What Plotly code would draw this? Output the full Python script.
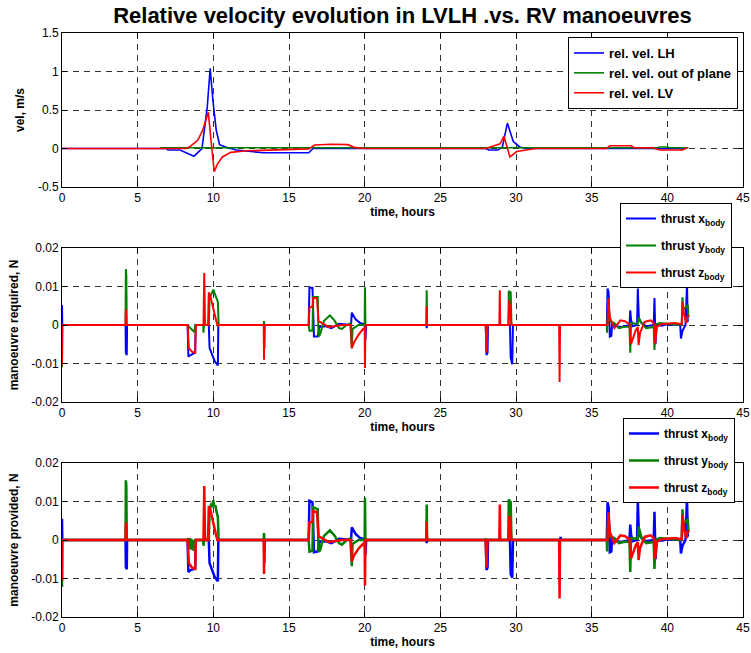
import plotly.graph_objects as go

# ---------------- data: relative velocity (m/s) ----------------
lh_t = [0, 6.9, 7.0, 7.8, 8.72, 9.25, 9.6, 9.79, 9.97, 10.19, 10.41, 10.86, 11.5, 13.3, 16.3, 16.6, 28.0, 28.2, 28.8, 29.1, 29.43, 29.82, 30.25, 30.6, 41.3]
lh_v = [0, 0, -0.02, -0.02, -0.1, 0.0, 0.54, 1.04, 0.63, 0.24, 0.05, 0.015, -0.02, -0.055, -0.055, 0.0, 0.0, -0.02, -0.02, 0.02, 0.33, 0.09, 0.02, 0.0, 0.0]

oop_t = [6.5, 15.0, 20.0, 28.0, 39.3, 39.5, 40.0, 40.2, 41.4]
oop_v = [0.01, 0.012, 0.01, 0.01, 0.01, 0.02, 0.02, 0.01, 0.01]

lv_t = [0, 8.2, 8.5, 8.98, 9.3, 9.67, 9.85, 10.06, 10.28, 10.6, 11.15, 12.2, 16.3, 16.6, 16.7, 17.8, 18.9, 19.3, 20.0, 28.0, 28.5, 28.95, 29.2, 29.6, 30.05, 30.7, 31.3, 36.0, 36.2, 37.6, 37.8, 39.0, 39.5, 41.0, 41.3]
lv_v = [0, 0, 0.03, 0.11, 0.24, 0.47, 0.1, -0.3, -0.2, -0.11, -0.05, -0.03, -0.005, 0.03, 0.045, 0.055, 0.05, 0.015, 0.0, 0.0, 0.03, 0.06, 0.16, -0.11, -0.04, -0.02, 0.0, 0.0, 0.036, 0.036, 0.01, 0.01, -0.02, -0.02, 0.01]

# ---------------- data: manoeuvre required (N) ----------------
rx_t = [0, 0.02, 4.2, 4.22, 4.28, 4.3, 8.3, 8.35, 8.5, 8.8, 8.83, 9.7, 9.75, 9.9, 10.1, 10.3, 10.33, 13.35, 13.37, 13.39,
        16.3, 16.35, 16.55, 16.65, 16.9, 17.0, 17.4, 17.8, 18.3, 18.8, 19.1, 19.15, 19.4, 19.7, 20.0, 20.05, 20.1,
        24.08, 24.1, 24.12, 28.0, 28.05, 28.12, 28.15, 29.6, 29.65, 29.75, 29.8,
        36.0, 36.05, 36.12, 36.2, 36.3, 36.35, 36.6, 37.0, 37.5, 37.55, 37.6, 37.7, 38.0, 38.05, 38.12, 38.3, 38.6,
        39.1, 39.15, 39.22, 39.3, 39.6, 40.0, 40.5, 40.85, 40.9, 41.0, 41.2, 41.3, 41.35, 41.4]
rx_v = [0.0052, 0, 0, -0.0072, -0.0078, 0, 0, -0.0082, -0.0078, -0.0072, 0, 0, -0.006, -0.0075, -0.0095, -0.0105, 0, 0, -0.006, 0,
        0, 0.0097, 0.0097, -0.003, -0.003, -0.0005, -0.0003, -0.0008, 0.0003, 0, 0, 0.0032, 0.0015, 0.0005, 0.0002, -0.004, 0,
        0, -0.0008, 0, 0, -0.0078, -0.0072, 0, 0, -0.0085, -0.0102, 0,
        0, 0.0095, 0.0085, -0.003, -0.0028, 0.0005, -0.0003, -0.0005, 0, 0.0038, 0.0015, -0.0003, 0, 0.0095, 0.0015, 0.0005, -0.0003,
        0, 0.007, -0.005, 0.0002, -0.0002, 0.0002, 0, 0, -0.0035, -0.0015, 0, 0.0105, 0.001, 0.001]

ry_t = [0, 0.02, 4.2, 4.22, 4.25, 4.28, 8.3, 8.4, 8.75, 8.8, 9.33, 9.35, 9.38, 9.7, 9.75, 10.0, 10.3, 10.35, 13.33, 13.35, 13.37,
        16.3, 16.35, 16.55, 16.6, 16.9, 16.95, 17.05, 17.3, 17.7, 18.0, 18.3, 18.5, 18.8, 19.05, 19.15, 19.2, 19.6, 20.0, 20.02, 20.05,
        24.08, 24.1, 24.12, 28.0, 28.02, 28.05, 29.5, 29.52, 29.65, 29.7,
        36.0, 36.02, 36.1, 36.18, 36.5, 36.8, 37.1, 37.5, 37.55, 37.6, 38.05, 38.1, 38.3, 38.6, 39.1, 39.15, 39.22, 39.5, 40.0, 40.5,
        40.95, 41.0, 41.05, 41.3, 41.35, 41.4]
ry_v = [-0.011, 0, 0, 0.0145, 0.013, 0, 0, -0.0005, -0.0018, 0, 0, -0.002, 0, 0, 0.007, 0.0092, 0.006, 0, 0, 0.001, 0,
        0, -0.0015, -0.0015, 0.0073, 0.0073, -0.003, -0.0025, 0.001, 0.0025, 0.0012, -0.0008, -0.001, 0, 0.0004, -0.006, -0.001, 0, 0, 0.0098, 0,
        0, 0.009, 0, 0, -0.0015, 0, 0, 0.0088, 0.0085, 0,
        0, -0.002, 0.007, 0.001, 0.0005, -0.0008, -0.0005, -0.0004, -0.0072, 0.0005, 0.0003, 0.002, 0.0005, -0.0008, -0.0005, -0.0065, 0, 0.0005, 0.0003, 0.0002,
        0, 0.0072, 0.004, 0.005, 0.0052, 0.002]

rz_t = [0, 0.02, 4.2, 4.22, 4.25, 8.3, 8.38, 8.6, 8.8, 8.85, 9.35, 9.4, 9.45, 9.5, 9.65, 9.7, 9.8, 10.0, 10.2, 10.3, 10.35,
        13.33, 13.35, 13.37, 16.3, 16.35, 16.55, 16.6, 16.85, 16.95, 17.3, 17.6, 18.0, 18.5, 19.1, 19.15, 19.3, 19.6, 19.9, 20.0, 20.02, 20.05,
        24.08, 24.1, 24.12, 28.0, 28.05, 28.12, 28.9, 28.93, 28.96, 29.5, 29.55, 29.65, 29.7, 32.85, 32.88, 32.91,
        36.05, 36.1, 36.2, 36.5, 36.9, 37.2, 37.5, 37.6, 37.9, 38.05, 38.1, 38.2, 38.5, 38.9, 39.1, 39.2, 39.3, 39.6, 40.0, 40.5,
        40.95, 41.0, 41.1, 41.25, 41.35, 41.4]
rz_v = [-0.0105, 0, 0, 0.004, 0, 0, -0.006, -0.007, -0.0072, 0, 0, 0.0135, 0.0005, 0, 0, 0.0085, 0.0075, 0.004, 0.001, -0.0003, 0,
        0, -0.009, 0, 0, 0.0045, 0.0048, 0.007, 0.007, 0.001, 0.0002, -0.0005, -0.0003, 0, 0, -0.006, -0.0045, -0.0025, -0.001, -0.0008, -0.0112, 0,
        0, 0.0048, 0, 0, -0.0072, 0, 0, 0.009, 0, 0, 0.0065, 0.002, 0, 0, -0.0148, 0,
        0, 0.007, 0.002, -0.0008, 0.0012, 0.001, 0.0002, -0.005, -0.0015, -0.0005, -0.0052, -0.002, 0.0008, 0.0012, 0.0005, -0.0048, -0.0005, 0.0002, 0.0003, 0.0005,
        0.0002, 0.006, 0.003, 0.0005, 0.0025, 0.002]

# ---------------- data: manoeuvre provided (N) ----------------
px_t = [0, 0.02, 4.2, 4.22, 4.28, 4.3, 8.3, 8.35, 8.5, 8.8, 8.83, 9.7, 9.75, 9.9, 10.1, 10.3, 10.33, 13.35, 13.37, 13.39,
        16.3, 16.35, 16.55, 16.65, 16.9, 17.0, 17.4, 17.8, 18.3, 18.8, 19.1, 19.15, 19.4, 19.7, 20.0, 20.05, 20.1,
        24.08, 24.1, 24.12, 28.0, 28.05, 28.12, 28.15, 29.6, 29.65, 29.75, 29.8, 32.93, 32.95, 32.97,
        36.0, 36.05, 36.12, 36.2, 36.3, 36.35, 36.6, 37.0, 37.5, 37.55, 37.6, 37.7, 38.0, 38.05, 38.12, 38.3, 38.6,
        39.1, 39.15, 39.22, 39.3, 39.6, 40.0, 40.5, 40.85, 40.9, 41.0, 41.2, 41.3, 41.35, 41.4]
px_v = [0.0055, 0, 0, -0.007, -0.0076, 0, 0, -0.0083, -0.0078, -0.0074, 0, 0, -0.006, -0.0078, -0.0097, -0.0107, 0, 0, -0.006, 0,
        0, 0.0102, 0.0098, -0.0032, -0.003, -0.0005, -0.0003, -0.0008, 0.0003, 0, 0, 0.0033, 0.0016, 0.0005, 0.0002, -0.004, 0,
        0, -0.0008, 0, 0, -0.0078, -0.0072, 0, 0, -0.0088, -0.0098, 0, 0, 0.0008, 0,
        0, 0.0098, 0.0085, -0.0032, -0.003, 0.0005, -0.0003, -0.0005, 0, 0.004, 0.0015, -0.0003, 0, 0.0101, 0.0015, 0.0005, -0.0003,
        0, 0.0073, -0.005, 0.0002, -0.0002, 0.0002, 0, 0, -0.0035, -0.0015, 0, 0.011, 0.001, 0.001]

py_t = [0, 0.02, 4.2, 4.22, 4.25, 4.28, 8.3, 8.35, 8.4, 8.45, 8.5, 8.55, 8.6, 8.65, 8.7, 8.75, 8.8, 9.33, 9.35, 9.38,
        9.7, 9.75, 9.85, 9.9, 10.0, 10.05, 10.15, 10.2, 10.3, 10.35, 13.33, 13.35, 13.37,
        16.3, 16.35, 16.55, 16.6, 16.9, 16.95, 17.05, 17.3, 17.7, 18.0, 18.3, 18.5, 18.8, 19.05, 19.15, 19.2, 19.6, 20.0, 20.02, 20.05,
        24.08, 24.1, 24.12, 28.0, 28.02, 28.05, 28.08, 29.5, 29.52, 29.65, 29.7,
        36.0, 36.02, 36.1, 36.18, 36.5, 36.8, 37.1, 37.5, 37.55, 37.6, 38.05, 38.1, 38.3, 38.6, 39.1, 39.15, 39.22, 39.5, 40.0, 40.5,
        40.95, 41.0, 41.05, 41.3, 41.35, 41.4]
py_v = [-0.0122, 0, 0, 0.0155, 0.014, 0, 0, 0.0005, -0.002, 0.0005, -0.0025, 0.0003, -0.0025, 0, -0.0025, -0.0025, 0, 0, -0.0015, 0,
        0, 0.007, 0.0095, 0.0085, 0.0103, 0.009, 0.0088, 0.0075, 0.006, 0, 0, 0.0018, 0,
        0, -0.003, -0.0028, 0.0085, 0.008, -0.003, -0.0027, 0.001, 0.0025, 0.0012, -0.0008, -0.0012, 0, 0.0004, -0.0068, -0.001, 0, 0, 0.011, 0,
        0, 0.0092, 0, 0, 0.0005, -0.0068, 0, 0, 0.0105, 0.0098, 0,
        0, -0.003, 0.007, 0.001, 0.0005, -0.0008, -0.0005, -0.0004, -0.0083, 0.0005, 0.0003, 0.0035, 0.0005, -0.0008, -0.0005, -0.0075, 0, 0.0005, 0.0003, 0.0002,
        0, 0.008, 0.004, 0.0052, 0.0055, 0.002]

pz_t = [0, 0.02, 4.2, 4.22, 4.25, 8.3, 8.38, 8.6, 8.8, 8.85, 9.35, 9.4, 9.45, 9.5, 9.65, 9.7, 9.8, 10.0, 10.2, 10.3, 10.35,
        13.33, 13.35, 13.37, 16.3, 16.35, 16.55, 16.6, 16.85, 16.95, 17.3, 17.6, 18.0, 18.5, 19.1, 19.15, 19.3, 19.6, 19.9, 20.0, 20.02, 20.05,
        24.08, 24.1, 24.12, 28.0, 28.05, 28.12, 28.9, 28.93, 28.96, 29.5, 29.55, 29.65, 29.7, 32.85, 32.88, 32.91,
        36.05, 36.1, 36.2, 36.5, 36.9, 37.2, 37.5, 37.6, 37.9, 38.05, 38.1, 38.2, 38.5, 38.9, 39.1, 39.2, 39.3, 39.6, 40.0, 40.5,
        40.95, 41.0, 41.1, 41.25, 41.35, 41.4]
pz_v = [-0.0105, 0, 0, 0.0045, 0, 0, -0.006, -0.0072, -0.0075, 0, 0, 0.014, 0.0005, 0, 0, 0.0088, 0.0078, 0.004, 0.001, -0.0003, 0,
        0, -0.0088, 0, 0, 0.0045, 0.0048, 0.0075, 0.0072, 0.001, 0.0002, -0.0005, -0.0003, 0, 0, -0.0055, -0.004, -0.0022, -0.001, -0.0008, -0.0118, 0,
        0, 0.0048, 0, 0, -0.0072, 0, 0, 0.0092, 0, 0, 0.0062, 0.002, 0, 0, -0.0152, 0,
        0, 0.0072, 0.002, -0.0008, 0.0012, 0.001, 0.0002, -0.0048, -0.0015, -0.0005, -0.0052, -0.002, 0.0008, 0.0012, 0.0005, -0.0048, -0.0005, 0.0002, 0.0003, 0.0005,
        0.0002, 0.0065, 0.003, 0.0005, 0.0025, 0.002]

# ---------------- ticks & labels ----------------
x_ticks = [0, 5, 10, 15, 20, 25, 30, 35, 40, 45]
vel_ticks = [-0.5, 0, 0.5, 1, 1.5]
vel_ticktext = ["-0.5", "0", "0.5", "1", "1.5"]
thr_ticks = [-0.02, -0.01, 0, 0.01, 0.02]
thr_ticktext = ["-0.02", "-0.01", "0", "0.01", "0.02"]

BLUE, GREEN, RED = "#0000ff", "#008000", "#ff0000"
FONT = "Liberation Sans, Arial, Helvetica, sans-serif"

fig = go.Figure()

def add(t, v, name, color, xa, ya, legend, width, group):
    fig.add_trace(go.Scatter(x=t, y=v, mode="lines", name=name,
                             line=dict(color=color, width=width),
                             xaxis=xa, yaxis=ya, legend=legend, legendgroup=group))

add(lh_t, lh_v, "<b>rel. vel. LH</b>", BLUE, "x", "y", "legend", 1.6, "a1")
add(oop_t, oop_v, "<b>rel. vel. out of plane</b>", GREEN, "x", "y", "legend", 1.6, "a2")
add(lv_t, lv_v, "<b>rel. vel. LV</b>", RED, "x", "y", "legend", 1.6, "a3")

add(rx_t, rx_v, "<b>thrust x<sub>body</sub></b>", BLUE, "x2", "y2", "legend2", 2, "b1")
add(ry_t, ry_v, "<b>thrust y<sub>body</sub></b>", GREEN, "x2", "y2", "legend2", 2, "b2")
add(rz_t, rz_v, "<b>thrust z<sub>body</sub></b>", RED, "x2", "y2", "legend2", 2, "b3")

add(px_t, px_v, "<b>thrust x<sub>body</sub></b>", BLUE, "x3", "y3", "legend3", 2.5, "c1")
add(py_t, py_v, "<b>thrust y<sub>body</sub></b>", GREEN, "x3", "y3", "legend3", 2.5, "c2")
add(pz_t, pz_v, "<b>thrust z<sub>body</sub></b>", RED, "x3", "y3", "legend3", 2.5, "c3")

TOP, BOT = 33, 617
H = BOT - TOP
def dom(y_top, y_bot):
    return [(BOT - y_bot) / H, (BOT - y_top) / H]

common = dict(showline=True, linecolor="black", linewidth=1, mirror="ticks",
              ticks="inside", ticklen=5, tickcolor="black", automargin=False,
              showgrid=True, gridcolor="#333333", gridwidth=1, griddash="6px,5px",
              zeroline=False, tickfont=dict(family=FONT, size=12, color="black"))

def xtitle(standoff):
    return dict(text="<b>time, hours</b>", font=dict(family=FONT, size=12, color="black"), standoff=standoff)

def ytitle(s):
    return dict(text="<b>" + s + "</b>", font=dict(family=FONT, size=12, color="black"), standoff=10)

fig.update_layout(
    width=751, height=653,
    margin=dict(l=62, r=8, t=TOP, b=653 - BOT),
    paper_bgcolor="white", plot_bgcolor="white",
    title=dict(text="<b>Relative velocity evolution in LVLH .vs. RV manoeuvres</b>",
               font=dict(family=FONT, size=22, color="black"),
               x=(62 + 743) / 2 / 751, xanchor="center", y=1 - 15 / 653, yanchor="middle"),
    xaxis=dict(domain=[0, 1], anchor="y", range=[0, 45], tickvals=x_ticks, title=xtitle(2), **common),
    yaxis=dict(domain=dom(33, 187), anchor="x", range=[-0.5, 1.5], tickvals=vel_ticks,
               ticktext=vel_ticktext, title=ytitle("vel, m/s"), **common),
    xaxis2=dict(domain=[0, 1], anchor="y2", range=[0, 45], tickvals=x_ticks, title=xtitle(2), **common),
    yaxis2=dict(domain=dom(248, 402), anchor="x2", range=[-0.02, 0.02], tickvals=thr_ticks,
                ticktext=thr_ticktext, title=ytitle("manoeuvre required, N"), **common),
    xaxis3=dict(domain=[0, 1], anchor="y3", range=[0, 45], tickvals=x_ticks, title=xtitle(0), **common),
    yaxis3=dict(domain=dom(463, 617), anchor="x3", range=[-0.02, 0.02], tickvals=thr_ticks,
                ticktext=thr_ticktext, title=ytitle("manoeuvre provided, N"), **common),
    showlegend=True,
)

def leg(px, py, size, gap):
    return dict(x=(px - 62) / 681, y=(BOT - py) / H, xanchor="left", yanchor="top",
                bgcolor="white", bordercolor="black", borderwidth=1,
                font=dict(family=FONT, size=size, color="black"), tracegroupgap=gap)

fig.update_layout(legend=leg(568, 37, 13, 0), legend2=leg(620, 203, 12, 8), legend3=leg(623, 418, 12, 8))

fig.write_html("out.html", config={"displayModeBar": False},
               post_script="document.body.style.margin='0';")
